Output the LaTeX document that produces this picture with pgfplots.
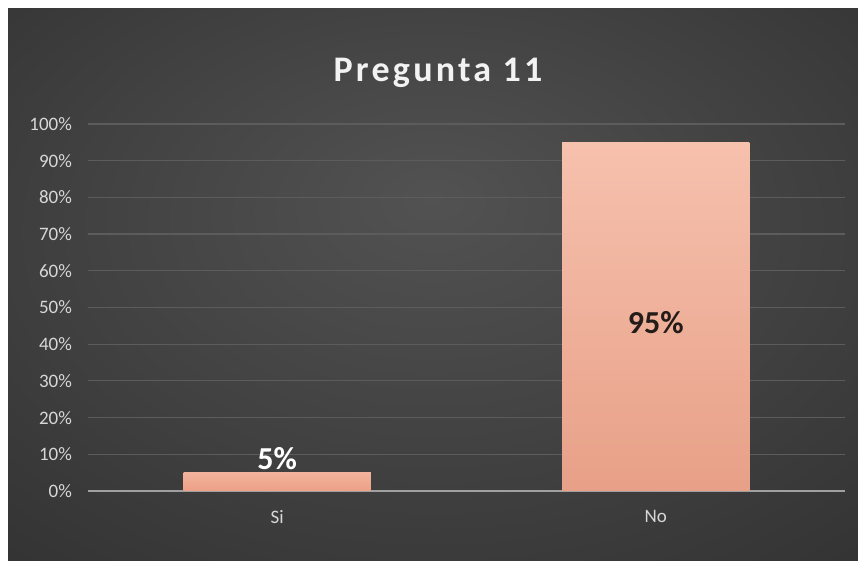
\documentclass[border=0pt]{standalone}
\usepackage{fontspec}
\setmainfont{Carlito}
\newfontfamily\titlefont[LetterSpace=9]{Carlito}
\usepackage{pgfplots}
\pgfplotsset{compat=1.18}

\definecolor{bginner}{RGB}{82,82,82}
\definecolor{bgouter}{RGB}{32,32,32}
\definecolor{gridgray}{RGB}{92,92,92}
\definecolor{axisgray}{RGB}{160,160,160}
\definecolor{ticktext}{RGB}{215,215,215}
\definecolor{bartop}{RGB}{246,193,173}
\definecolor{barbot}{RGB}{232,160,136}
\definecolor{sitop}{RGB}{242,178,155}
\definecolor{sibot}{RGB}{236,160,135}
\definecolor{labdark}{RGB}{35,28,25}

\pgfdeclareradialshading{panelbg}{\pgfpoint{0bp}{8bp}}{color(0bp)=(bginner); color(62bp)=(bgouter)}

\begin{document}
\begin{tikzpicture}
% page 858x563 px, 1px = 0.5pt
\fill[white] (0,0) rectangle (429pt,281.5pt);
\shade[shading=panelbg] (4pt,1pt) rectangle (429pt,277pt);
\node[font=\titlefont\bfseries\fontsize{18}{21}\selectfont, text=white!95!black]
  at (219pt,245pt) {Pregunta 11};

\begin{axis}[
  at={(44pt,36pt)}, anchor=south west,
  scale only axis, width=378.5pt, height=183.5pt,
  xmin=-0.5, xmax=1.5, ymin=0, ymax=100,
  xtick={0,1}, xticklabels={Si,No},
  ytick={0,10,...,100},
  yticklabel={\pgfmathprintnumber{\tick}\%},
  /pgf/number format/assume math mode=true,
  major tick length=0pt,
  ymajorgrids, grid style={draw=gridgray, line width=0.6pt},
  axis lines*=left,
  y axis line style={draw=none},
  x axis line style={draw=axisgray, line width=0.8pt, -},
  tick label style={font=\fontsize{9.5}{11}\selectfont, text=ticktext},
  yticklabel style={xshift=-4.5pt},
  xticklabel style={yshift=-6pt},
  clip=false,
]
\addplot[ybar, bar width=93.5pt, bar shift=0pt, draw=none,
  top color=sitop, bottom color=sibot,
  nodes near coords={\pgfmathprintnumber{\pgfplotspointmeta}\%},
  every node near coord/.append style={anchor=south, inner sep=0pt, yshift=1pt,
    font=\bfseries\fontsize{16}{18}\selectfont, text=white}]
  coordinates {(0,5)};
\addplot[ybar, bar width=93.5pt, bar shift=0pt, draw=none,
  top color=bartop, bottom color=barbot,
  nodes near coords={\pgfmathprintnumber{\pgfplotspointmeta}\%},
  every node near coord/.append style={anchor=center, inner sep=0pt, yshift=-90pt,
    font=\bfseries\fontsize{16}{18}\selectfont, text=labdark}]
  coordinates {(1,95)};
\end{axis}
\end{tikzpicture}
\end{document}
